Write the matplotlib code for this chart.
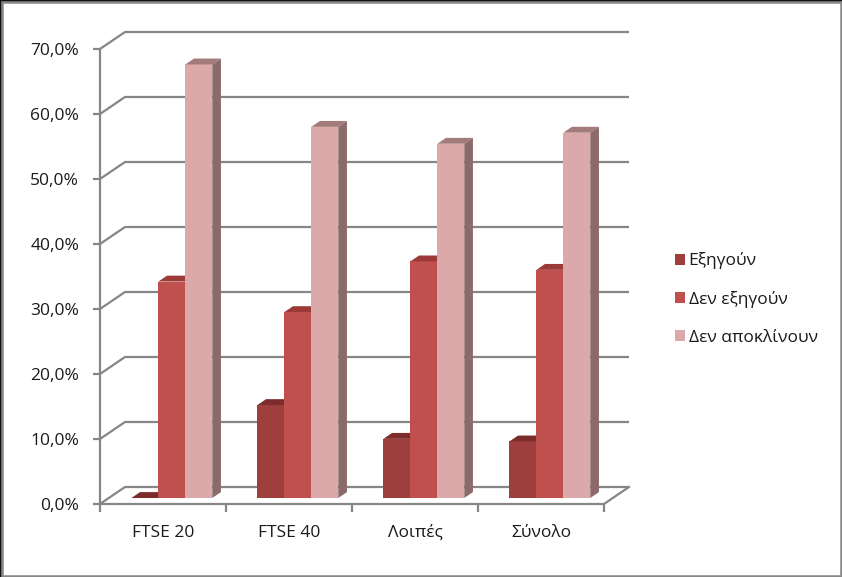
import numpy as np
import matplotlib
matplotlib.use("Agg")
import matplotlib.pyplot as plt
from matplotlib.patches import Polygon, Rectangle, Patch

plt.rcParams['font.family'] = ['Open Sans', 'DejaVu Sans']

# data
categories = ['FTSE 20', 'FTSE 40', 'Λοιπές', 'Σύνολο']
series_names = ['Εξηγούν', 'Δεν εξηγούν', 'Δεν αποκλίνουν']
explain = [0.0, 14.3, 9.1, 8.7]
not_explain = [33.3, 28.6, 36.4, 35.1]
no_deviation = [66.7, 57.1, 54.5, 56.2]
series_values = [explain, not_explain, no_deviation]

# colours: front, top, side
front_cols = ['#9e3f3d', '#c0504d', '#dba9a9']
top_cols = ['#7c2d2b', '#9c3a37', '#a37b7b']
side_cols = ['#6e2826', '#8a3330', '#8c6a6a']
grid_col = '#868686'
txt_col = '#1a1a1a'
fs = 12.5

W, H = 842, 577
fig = plt.figure(figsize=(W / 100, H / 100), dpi=100)
# axes in pixel geometry of the reference
ax = fig.add_axes([100 / W, (H - 504) / H, 529 / W, 472 / H])

n_cat = len(categories)
DX = 25 / 126      # depth offset of back wall, category units
DY = 0.17 / 6.5    # depth offset of back wall, value units (fraction)
ymax = 0.7

ax.set_xlim(0, n_cat + DX)
ax.set_ylim(0, ymax + DY)
for s in ax.spines.values():
    s.set_visible(False)

# walls: gridlines with diagonals on left side wall
yticks = np.arange(0, 0.71, 0.1)
for v in yticks:
    ax.plot([0, DX, n_cat + DX], [v, v + DY, v + DY], color=grid_col, lw=1.6,
            clip_on=False, zorder=1, solid_capstyle='butt')
ax.plot([0, 0], [0, ymax], color=grid_col, lw=1.6, clip_on=False, zorder=1)
ax.plot([0, n_cat, n_cat + DX], [0, 0, DY], color=grid_col, lw=1.6,
        clip_on=False, zorder=1)

# bars
bw = 0.214
f0, f1 = 0.353, 0.70
for i in range(n_cat):
    for k, vals in enumerate(series_values):
        v = vals[i] / 100
        x0 = i + 0.5 - 1.5 * bw + k * bw + f0 * DX
        x1 = x0 + bw
        y0 = f0 * DY
        y1 = y0 + v
        ddx = (f1 - f0) * DX
        ddy = (f1 - f0) * DY
        zo = 3 + i * 3 + k
        ax.add_patch(Polygon([(x0, y0), (x1, y0), (x1, y1), (x0, y1)],
                             closed=True, fc=front_cols[k], ec='none', zorder=zo))
        ax.add_patch(Polygon([(x0, y1), (x1, y1), (x1 + ddx, y1 + ddy), (x0 + ddx, y1 + ddy)],
                             closed=True, fc=top_cols[k], ec='none', zorder=zo))
        ax.add_patch(Polygon([(x1, y0), (x1 + ddx, y0 + ddy), (x1 + ddx, y1 + ddy), (x1, y1)],
                             closed=True, fc=side_cols[k], ec='none', zorder=zo))

# ticks and labels
ax.set_yticks(yticks)
ax.set_yticklabels([('%.1f%%' % (t * 100)).replace('.', ',') for t in yticks])
ax.tick_params(axis='y', length=5, width=1.6, color=grid_col, pad=10,
               labelsize=fs, labelcolor=txt_col)
ax.set_xticks(np.arange(n_cat + 1))
ax.set_xticklabels([''] * (n_cat + 1))
ax.set_xticks(np.arange(n_cat) + 0.5, minor=True)
ax.set_xticklabels(categories, minor=True)
ax.tick_params(axis='x', which='major', length=6, width=1.6, color=grid_col)
ax.tick_params(axis='x', which='minor', length=0, pad=15, labelsize=fs,
               labelcolor=txt_col)

# legend
handles = [Patch(fc=front_cols[k], ec='none') for k in range(3)]
leg = fig.legend(handles, series_names, loc='center left',
                 bbox_to_anchor=(659 / W, (H - 299) / H), frameon=False,
                 handlelength=0.6, handleheight=0.6, handletextpad=0.2,
                 labelspacing=1.25, fontsize=fs)
for t in leg.get_texts():
    t.set_color(txt_col)

# outer border
fig.add_artist(Rectangle((0, 0), 1, 1, transform=fig.transFigure, fill=False,
                         ec='#111111', lw=2))
fig.add_artist(Rectangle((1.5 / W, 1.5 / H), 1 - 3 / W, 1 - 3 / H,
                         transform=fig.transFigure, fill=False, ec=grid_col, lw=1.8))

fig.savefig('out.png', dpi=100)
